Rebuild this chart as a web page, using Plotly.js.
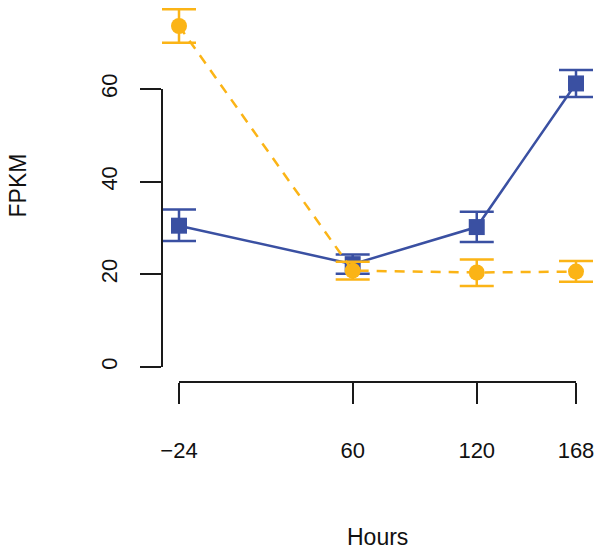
<!DOCTYPE html>
<html>
<head>
<meta charset="utf-8">
<script src="https://cdn.plot.ly/plotly-3.0.1.min.js"></script>
<style>html,body{margin:0;padding:0;background:#fff;}#chart{width:600px;height:551px;}</style>
</head>
<body>
<div id="chart"></div>
<script>
// Data
const hours = [-24, 60, 120, 168];
const hourLabels = ["\u221224", "60", "120", "168"];
const seriesA = [30.5, 22.2, 30.2, 61.2];
const seriesAUpper = [34.0, 24.3, 33.5, 64.1];
const seriesALower = [27.2, 20.1, 27.0, 58.3];
const seriesB = [73.6, 20.8, 20.4, 20.6];
const seriesBUpper = [77.2, 22.7, 23.2, 22.9];
const seriesBLower = [70.0, 18.9, 17.5, 18.4];
const yTicks = [0, 20, 40, 60];

const blue = '#3A50A2';
const orange = '#FBB416';
const axisColor = '#1a1a1a';

function errs(v, up, lo) {
  return {
    plus: up.map((u, i) => u - v[i]),
    minus: v.map((c, i) => c - lo[i])
  };
}
const eA = errs(seriesA, seriesAUpper, seriesALower);
const eB = errs(seriesB, seriesBUpper, seriesBLower);

const traces = [
  {
    x: hours, y: seriesA, type: 'scatter', mode: 'lines+markers',
    line: {color: blue, width: 2.5},
    marker: {symbol: 'square', size: 16, color: blue},
    error_y: {type: 'data', symmetric: false, array: eA.plus, arrayminus: eA.minus,
              color: blue, thickness: 2.5, width: 17},
    cliponaxis: false, showlegend: false, hoverinfo: 'none'
  },
  {
    x: hours, y: seriesB, type: 'scatter', mode: 'lines+markers',
    line: {color: orange, width: 2.5, dash: '10px,8px'},
    marker: {symbol: 'circle', size: 16, color: orange},
    error_y: {type: 'data', symmetric: false, array: eB.plus, arrayminus: eB.minus,
              color: orange, thickness: 2.5, width: 17},
    cliponaxis: false, showlegend: false, hoverinfo: 'none'
  },
  {x: [], y: [], xaxis: 'x2', yaxis: 'y2', type: 'scatter', showlegend: false, hoverinfo: 'none'}
];

const W = 600, H = 551;
const xLeftPx = 179, xRightPx = 576;   // pixel positions of -24 and 168
const yZeroPx = 367, ySixtyPx = 89;    // pixel positions of 0 and 60
const xScale = (xRightPx - xLeftPx) / (hours[3] - hours[0]);
const yScale = (yZeroPx - ySixtyPx) / 60;
const xMin = hours[0] - xLeftPx / xScale;
const xMax = xMin + W / xScale;
const yMax = yZeroPx / yScale;
const yMin = -(H - yZeroPx) / yScale;

const fontFam = 'Liberation Sans, Arial, sans-serif';
const tickFont = {family: fontFam, size: 22, color: '#111'};

const layout = {
  width: W, height: H,
  margin: {l: 0, r: 0, t: 0, b: 0, pad: 0},
  paper_bgcolor: '#fff', plot_bgcolor: 'rgba(0,0,0,0)',
  xaxis: {domain: [0, 1], range: [xMin, xMax], visible: false, fixedrange: true},
  yaxis: {domain: [0, 1], range: [yMin, yMax], visible: false, fixedrange: true},
  xaxis2: {
    domain: [xLeftPx / W, xRightPx / W], range: [hours[0], hours[3]],
    anchor: 'free', position: 1 - 382 / H,
    tickmode: 'array', tickvals: hours, ticktext: hourLabels,
    ticks: 'outside', ticklen: 21, tickwidth: 2, tickcolor: axisColor,
    showline: true, linecolor: axisColor, linewidth: 2,
    showgrid: false, zeroline: false, tickfont: tickFont, ticklabelstandoff: 28,
    fixedrange: true
  },
  yaxis2: {
    domain: [1 - yZeroPx / H, 1 - ySixtyPx / H], range: [0, 60],
    anchor: 'free', position: 162 / W,
    tickmode: 'array', tickvals: yTicks, ticktext: yTicks.map(String),
    ticks: 'outside', ticklen: 21, tickwidth: 2, tickcolor: axisColor,
    showline: true, linecolor: axisColor, linewidth: 2,
    showgrid: false, zeroline: false, tickfont: tickFont, tickangle: -90,
    ticklabelstandoff: 14, fixedrange: true
  },
  annotations: [
    {text: 'Hours', xref: 'paper', yref: 'paper', x: 377.5 / W, y: 1 - 537 / H,
     showarrow: false, xanchor: 'center', yanchor: 'middle',
     font: {family: fontFam, size: 23, color: '#111'}},
    {text: 'FPKM', xref: 'paper', yref: 'paper', x: 17 / W, y: 1 - 185.5 / H,
     showarrow: false, xanchor: 'center', yanchor: 'middle', textangle: -90,
     font: {family: fontFam, size: 23, color: '#111'}}
  ]
};

Plotly.newPlot('chart', traces, layout, {staticPlot: true, displayModeBar: false});
</script>
</body>
</html>
